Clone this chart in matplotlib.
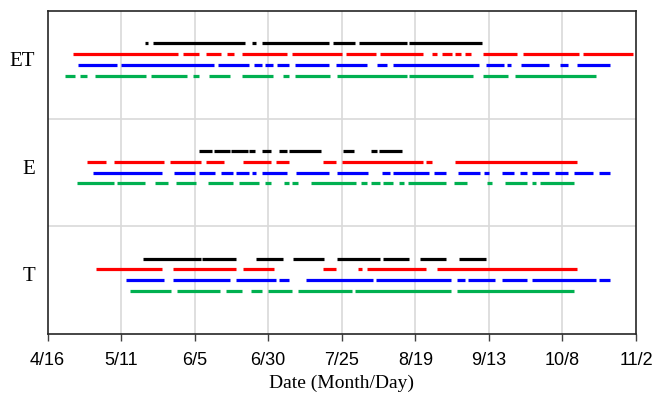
import matplotlib as mpl
mpl.use('Agg')
import matplotlib.pyplot as plt

# day of year; 4/16 = 106, 11/2 = 306
tick_days = [106, 131, 156, 181, 206, 231, 256, 281, 306]
tick_labels = ['4/16', '5/11', '6/5', '6/30', '7/25', '8/19', '9/13', '10/8', '11/2']

groups = ['T', 'E', 'ET']

# (start, end) day segments per group, per series
et_black = [(139, 140), (142, 173), (175.5, 177), (179, 201.5), (203, 210.5), (212, 228), (229, 253.5)]
et_red = [(114.5, 150.5), (152, 157.5), (160, 165), (167, 169.5), (172, 187.5), (189, 206), (207.5, 217.5),
          (219, 233.5), (236.5, 238.5), (240, 243.5), (244.5, 246.5), (248, 250), (254, 265.5),
          (267.5, 286.5), (288, 305)]
et_blue = [(116.5, 129.5), (131, 162.5), (164, 174.5), (176, 179), (180, 182.5), (184, 188), (190, 201.5),
           (204, 214.5), (218, 221.5), (223.5, 252.5), (255, 261), (262, 263.5), (267, 276.5), (280, 283),
           (286, 297)]
et_green = [(112, 115.5), (117, 119.5), (122, 139.5), (141, 153.5), (155.5, 157.5), (161, 168), (172, 182.5),
            (186, 188), (190, 202), (204.5, 228), (229, 250.5), (254, 262.5), (265, 292.5)]

e_black = [(157.5, 162), (162.5, 168), (168.5, 174), (174.5, 176.5), (179, 182), (184.5, 187.5), (188, 199),
           (206.5, 210), (216, 218), (218.5, 226.5)]
e_red = [(119.5, 126), (128.5, 145.5), (147.5, 158), (160, 166), (172.5, 182), (183.5, 188), (199.5, 204),
         (206, 233.5), (234.5, 236.5), (244.5, 286)]
e_blue = [(121.5, 145), (149, 156), (157.5, 163), (165, 169), (170, 174.5), (175.5, 177), (179, 187.5),
          (190.5, 201.5), (204.5, 215), (219.5, 222.5), (223.5, 235.5), (237.5, 241.5), (245.5, 253),
          (254.5, 256), (260.5, 264.5), (266.5, 269), (270.5, 276.5), (278.5, 283), (285, 291.5), (293.5, 297)]
e_green = [(116, 128.5), (129.5, 139), (142.5, 147), (149.5, 156.5), (160.5, 169), (171, 178), (180, 182),
           (186.5, 188), (189, 191), (195.5, 211), (212.5, 214.5), (216, 219), (220, 223.5), (225.5, 227),
           (228.5, 241.5), (244, 248.5), (255.5, 257), (261.5, 269), (270.5, 272), (273.5, 285)]

t_black = [(138.5, 158), (158.5, 170), (177, 186), (189.5, 200), (204.5, 219), (220, 229), (232.5, 241.5), (246, 255)]
t_red = [(122.5, 145), (148.5, 170), (172.5, 183), (199.5, 204), (211.5, 213), (214.5, 234.5), (238.5, 286)]
t_blue = [(132.5, 145.5), (148.5, 168), (170, 183.5), (184.5, 188), (194, 216.5), (217.5, 243), (245, 248),
          (249, 258), (260.5, 269), (270.5, 292.5), (293.5, 297)]
t_green = [(134, 148), (150, 164.5), (166.5, 172), (175, 179), (181, 189), (191, 209.5), (210.5, 243), (245, 285)]

data = {
    'T': [t_black, t_red, t_blue, t_green],
    'E': [e_black, e_red, e_blue, e_green],
    'ET': [et_black, et_red, et_blue, et_green],
}
colors = ['#000000', '#ff0000', '#0000ff', '#00b050']
offsets = [0.7, 0.6, 0.5, 0.4]


def main():
    fig = plt.figure(figsize=(6.54, 3.97), dpi=100)
    ax = fig.add_axes([0.0727, 0.1585, 0.8998, 0.8138])

    for i, g in enumerate(groups):
        for segs, c, off in zip(data[g], colors, offsets):
            starts = [s for s, e in segs]
            ends = [e for s, e in segs]
            ax.hlines([i + off] * len(segs), starts, ends, colors=c, lw=2.3, capstyle='butt', zorder=3)

    ax.set_xlim(106, 306)
    ax.set_ylim(0, 3)
    ax.set_xticks(tick_days)
    ax.set_xticklabels(tick_labels, family='Liberation Sans', fontsize=13)
    ax.set_yticks([i + 0.555 for i in range(len(groups))])
    ax.set_yticklabels(groups, family='Liberation Serif', fontsize=15)
    ax.tick_params(axis='y', length=0, pad=9)
    ax.tick_params(axis='x', length=5, width=1, color='#404040', pad=8)

    for d in tick_days[1:-1]:
        ax.axvline(d, color='#d9d9d9', lw=1.2, zorder=1)
    for y in [1, 2]:
        ax.axhline(y, color='#d9d9d9', lw=1.2, zorder=1)

    for sp in ax.spines.values():
        sp.set_color('#262626')
        sp.set_linewidth(1.2)

    ax.set_xlabel('Date (Month/Day)', family='Liberation Serif', fontsize=14, labelpad=4)
    fig.savefig('out.png', dpi=100)


if __name__ == '__main__':
    main()
